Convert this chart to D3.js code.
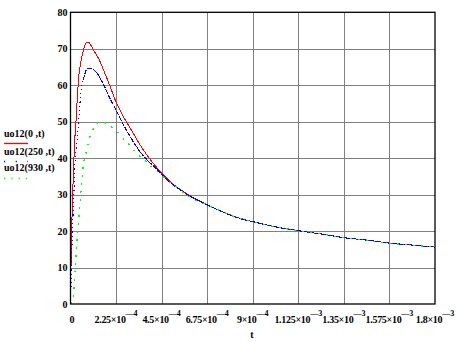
<!DOCTYPE html>
<html>
<head>
<meta charset="utf-8">
<script src="https://cdn.jsdelivr.net/npm/d3@7"></script>
<style>
  body { margin: 0; background: #fff; }
  svg { display: block; }
  text { font-family: "Liberation Serif", "Times New Roman", serif; font-weight: bold; font-size: 10px; fill: #000; }
</style>
</head>
<body>
<svg id="chart" width="475" height="342"></svg>
<script>
// ---- data ----
const seriesNames = ["uo12(0 ,t)", "uo12(250 ,t)", "uo12(930 ,t)"];

const tRed = [0, 3e-6, 6e-6, 1e-5, 1.5e-5, 2e-5, 2.7e-5, 3.4e-5, 4.2e-5, 5e-5, 6e-5, 7e-5, 8e-5, 9e-5, 1e-4, 1.13e-4, 1.3e-4, 1.46e-4, 1.6e-4, 1.79e-4, 2e-4, 2.25e-4, 2.5e-4, 2.78e-4, 3.1e-4, 3.44e-4, 3.77e-4, 4.1e-4, 4.5e-4, 5e-4, 5.75e-4, 6.75e-4, 7.5e-4, 8.25e-4, 9e-4, 1e-3, 1.125e-3, 1.25e-3, 1.35e-3, 1.45e-3, 1.575e-3, 1.7e-3, 1.8e-3];
const uRed = [0, 12, 21, 29, 37, 44, 50, 57, 63, 66, 68.8, 70.8, 71.8, 71.8, 71, 69.7, 68.2, 66.5, 64.6, 62, 59, 55.4, 52.5, 49.8, 46.8, 43.6, 40.9, 38.5, 35.9, 33.2, 30.2, 27.2, 25.3, 23.7, 22.6, 21.3, 20.1, 19.1, 18.2, 17.6, 16.7, 16.1, 15.6];

const tBlue = [0, 2.5e-6, 7e-6, 1.1e-5, 1.7e-5, 2.2e-5, 2.8e-5, 3.4e-5, 4.4e-5, 5e-5, 6.3e-5, 8e-5, 9.5e-5, 1.1e-4, 1.3e-4, 1.6e-4, 1.95e-4, 2.28e-4, 2.6e-4, 2.94e-4, 3.27e-4, 3.77e-4, 4.1e-4, 4.5e-4, 5e-4, 5.75e-4, 6.75e-4, 7.5e-4, 8.25e-4, 9e-4, 1e-3, 1.125e-3, 1.25e-3, 1.35e-3, 1.45e-3, 1.575e-3, 1.7e-3, 1.8e-3];
const uBlue = [0, 5, 15, 22, 31, 38.5, 42.5, 46, 53, 57.5, 61.4, 64.3, 64.7, 64.4, 63.4, 60.5, 56.4, 52.9, 49.3, 46, 43, 39.6, 37.8, 35.6, 33, 30.1, 27.2, 25.3, 23.6, 22.6, 21.3, 20.1, 19.1, 18.2, 17.6, 16.7, 16.1, 15.6];

const tGreen = [0, 1.4e-5, 2.2e-5, 3e-5, 3.9e-5, 4.7e-5, 5.5e-5, 6.3e-5, 8e-5, 9.6e-5, 1.2e-4, 1.37e-4, 1.6e-4, 1.95e-4, 2.28e-4, 2.53e-4, 3e-4, 3.27e-4, 3.6e-4, 4e-4, 4.4e-4, 4.76e-4, 5.2e-4, 5.75e-4, 6.75e-4, 7.5e-4, 8.25e-4, 9e-4, 1e-3, 1.125e-3, 1.25e-3, 1.35e-3, 1.45e-3, 1.575e-3, 1.7e-3, 1.8e-3];
const uGreen = [0, 2, 9.3, 15.7, 22.1, 27.7, 33.1, 37.7, 42.2, 45.9, 48.6, 49.8, 49.9, 48.8, 47.4, 45.9, 43, 41.3, 39.7, 37.7, 35.8, 33.9, 32.2, 29.9, 27.1, 25.3, 23.6, 22.6, 21.3, 20.1, 19.1, 18.2, 17.6, 16.7, 16.1, 15.6];

const xTicks = [0, 2.25e-4, 4.5e-4, 6.75e-4, 9e-4, 1.125e-3, 1.35e-3, 1.575e-3, 1.8e-3];
const xTickMantissa = ["0", "2.25", "4.5", "6.75", "9", "1.125", "1.35", "1.575", "1.8"];
const xTickExponent = [null, "4", "4", "4", "4", "3", "3", "3", "3"];
const yTicks = [0, 10, 20, 30, 40, 50, 60, 70, 80];
const xTitle = "t";

// ---- layout ----
const svg = d3.select("#chart");
const pLeft = 70.5, pRight = 435, pTop = 12.3, pBottom = 304;

const x = d3.scaleLinear().domain([0, 1.8e-3]).range([pLeft, pRight]);
const y = d3.scaleLinear().domain([0, 80]).range([pBottom, pTop]);

// grid
const grid = svg.append("g");
grid.selectAll("line.vg").data(xTicks.slice(1, -1)).join("line")
  .attr("x1", d => Math.round(x(d)) + 0.5).attr("x2", d => Math.round(x(d)) + 0.5)
  .attr("y1", pTop).attr("y2", pBottom)
  .attr("stroke", "#808080").attr("stroke-width", 1);
grid.selectAll("line.hg").data(yTicks.slice(1, -1)).join("line")
  .attr("y1", d => Math.round(y(d)) + 0.5).attr("y2", d => Math.round(y(d)) + 0.5)
  .attr("x1", pLeft).attr("x2", pRight)
  .attr("stroke", "#808080").attr("stroke-width", 1);

// curves
const line = d3.line().x(d => x(d[0])).y(d => y(d[1])).curve(d3.curveMonotoneX);
const zip = (a, b) => a.map((v, i) => [v, b[i]]);

const plot = svg.append("g");
plot.append("path").datum(zip(tRed, uRed)).attr("d", line)
  .attr("fill", "none").attr("stroke", "#ff0000").attr("stroke-width", 1)
  .attr("shape-rendering", "crispEdges");

const blueData = zip(tBlue, uBlue);
const blueSplit = 10; // rising part drawn dotted
plot.append("path").datum(blueData.slice(0, blueSplit + 1)).attr("d", line)
  .attr("fill", "none").attr("stroke", "#0000ff").attr("stroke-width", 1.1)
  .attr("stroke-dasharray", "1.2,3").attr("shape-rendering", "crispEdges");
plot.append("path").datum(blueData.slice(blueSplit)).attr("d", line)
  .attr("fill", "none").attr("stroke", "#0000ff").attr("stroke-width", 1.1)
  .attr("stroke-dasharray", "5,1").attr("shape-rendering", "crispEdges");

plot.append("path").datum(zip(tGreen, uGreen)).attr("d", line)
  .attr("fill", "none").attr("stroke", "#00ff00").attr("stroke-width", 1.3)
  .attr("stroke-dasharray", "2,6").attr("shape-rendering", "crispEdges");

// frame
svg.append("rect").attr("x", pLeft).attr("y", pTop).attr("width", pRight - pLeft).attr("height", pBottom - pTop)
  .attr("fill", "none").attr("stroke", "#000").attr("stroke-width", 1.3);

// y tick labels via axis
const yAxis = svg.append("g").attr("transform", `translate(${pLeft},0)`)
  .call(d3.axisLeft(y).tickValues(yTicks).tickSize(0).tickPadding(3).tickFormat(d3.format("d")));
yAxis.select(".domain").remove();
yAxis.selectAll("text").style("font-family", "'Liberation Serif', serif").style("font-size", "10px").style("font-weight", "bold");

// x tick labels
const xl = svg.append("g");
xTicks.forEach((v, i) => {
  const t = xl.append("text").attr("x", x(v) + (i === 0 ? 1.5 : 0)).attr("y", 323).attr("text-anchor", "middle");
  if (xTickExponent[i] === null) {
    t.text(xTickMantissa[i]);
  } else {
    t.append("tspan").style("letter-spacing", "-0.3px").text(xTickMantissa[i] + "×10");
    t.append("tspan").attr("dy", -7).style("font-size", "8px").text("—" + xTickExponent[i]);
  }
});
svg.append("text").attr("x", 252).attr("y", 338).attr("text-anchor", "middle").text(xTitle);

// legend
const legendColors = ["#ff0000", "#0000ff", "#00ff00"];
const legendDash = [null, "1.2,10.5", "1.3,6"];
const legendTextY = [137, 155, 171];
const legendLineY = [143.5, 161.5, 178.5];
seriesNames.forEach((n, i) => {
  svg.append("text").attr("x", 4).attr("y", legendTextY[i]).text(n);
  svg.append("line").attr("x1", 4).attr("x2", 28).attr("y1", legendLineY[i]).attr("y2", legendLineY[i])
    .attr("stroke", legendColors[i]).attr("stroke-width", 1.3)
    .attr("stroke-dasharray", legendDash[i]);
});
</script>
</body>
</html>
